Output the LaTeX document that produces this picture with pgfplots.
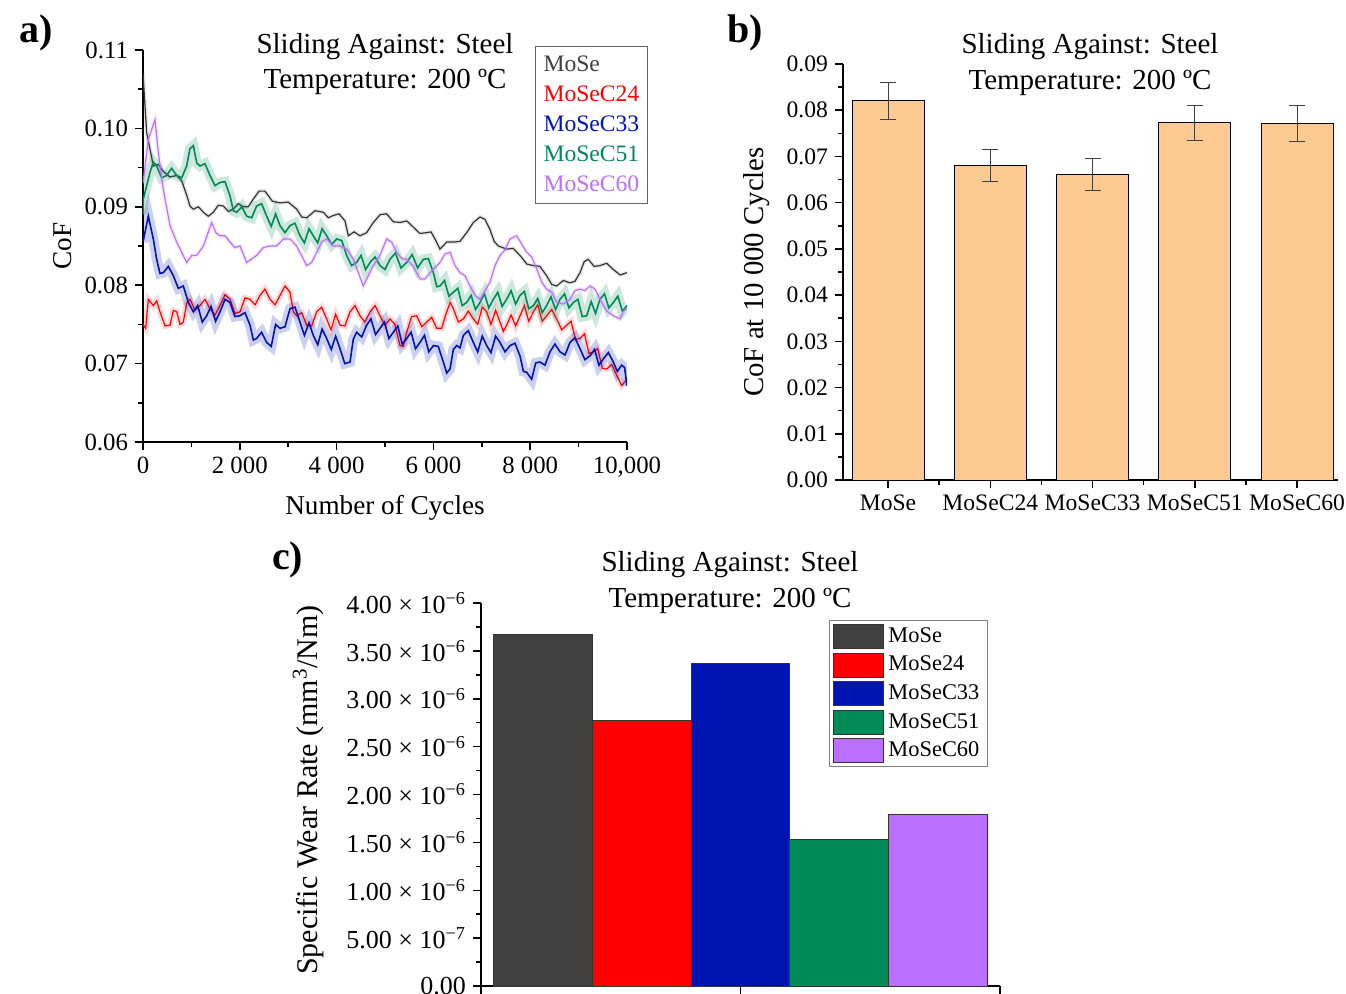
\documentclass[border=0pt]{standalone}
\usepackage{fontspec}
\setmainfont{Liberation Serif}
\usepackage{pgfplots}
\pgfplotsset{compat=1.18}
\usepackage{pgfplotstable}

\definecolor{cgray}{HTML}{404040}
\definecolor{cline}{HTML}{333333}
\definecolor{cred}{HTML}{FF0000}
\definecolor{cblue}{HTML}{0014B4}
\definecolor{cgreen}{HTML}{008A58}
\definecolor{cpurple}{HTML}{BB70FF}
\definecolor{cbar}{HTML}{FDCA92}

\pgfplotstableread{
x y
0 0.1070
30 0.1040
76 0.0995
214 0.0952
317 0.0954
420 0.0945
558 0.0938
696 0.0940
800 0.0933
902 0.0915
970 0.0901
1040 0.0897
1145 0.0900
1247 0.0893
1350 0.0888
1453 0.0893
1555 0.0902
1660 0.0901
1763 0.0894
1866 0.0897
1970 0.0904
2073 0.0900
2176 0.0900
2280 0.0910
2400 0.0920
2520 0.0920
2675 0.0907
2830 0.0905
3000 0.0906
3175 0.0897
3280 0.0887
3382 0.0886
3555 0.0895
3726 0.0893
3830 0.0886
3933 0.0889
4050 0.0891
4174 0.0882
4242 0.0863
4360 0.0868
4483 0.0863
4620 0.0867
4759 0.0880
4900 0.0890
5034 0.0891
5170 0.0881
5310 0.0880
5450 0.0882
5585 0.0874
5720 0.0866
5861 0.0867
5950 0.0868
6033 0.0859
6136 0.0846
6275 0.0855
6412 0.0855
6550 0.0856
6687 0.0867
6825 0.0880
6963 0.0887
7066 0.0884
7169 0.0871
7255 0.0856
7342 0.0850
7514 0.0846
7650 0.0847
7789 0.0838
7930 0.0827
8065 0.0825
8200 0.0824
8340 0.0812
8445 0.0801
8547 0.0799
8685 0.0806
8822 0.0803
8925 0.0805
9029 0.0816
9115 0.0830
9201 0.0833
9320 0.0824
9442 0.0825
9580 0.0828
9718 0.0820
9860 0.0813
10000 0.0816
}\tMoSe

\pgfplotstableread{
x y
0 0.0750
55 0.0745
110 0.0782
213 0.0774
282 0.0780
351 0.0766
455 0.0748
558 0.0749
627 0.0768
696 0.0766
765 0.0750
833 0.0753
902 0.0777
971 0.0782
1075 0.0768
1178 0.0774
1280 0.0782
1384 0.0770
1488 0.0762
1591 0.0774
1695 0.0788
1798 0.0782
1900 0.0764
2004 0.0766
2108 0.0784
2211 0.0782
2315 0.0775
2417 0.0787
2520 0.0795
2624 0.0782
2728 0.0775
2831 0.0787
2934 0.0799
3037 0.0791
3106 0.0766
3175 0.0761
3280 0.0765
3382 0.0749
3485 0.0748
3588 0.0766
3690 0.0772
3795 0.0757
3885 0.0743
3980 0.0763
4070 0.0749
4170 0.0748
4277 0.0766
4380 0.0774
4483 0.0761
4585 0.0753
4690 0.0766
4795 0.0774
4897 0.0761
5000 0.0749
5103 0.0757
5205 0.0750
5310 0.0723
5380 0.0722
5448 0.0740
5550 0.0760
5654 0.0761
5760 0.0747
5861 0.0753
5965 0.0759
6067 0.0745
6170 0.0745
6274 0.0766
6345 0.0778
6412 0.0770
6515 0.0753
6619 0.0757
6720 0.0767
6825 0.0757
6915 0.0750
7010 0.0772
7101 0.0766
7190 0.0750
7285 0.0768
7376 0.0753
7445 0.0741
7514 0.0749
7605 0.0762
7700 0.0748
7789 0.0761
7880 0.0774
7970 0.0754
8065 0.0766
8155 0.0775
8250 0.0754
8340 0.0761
8445 0.0769
8547 0.0757
8650 0.0743
8753 0.0749
8845 0.0754
8935 0.0731
9029 0.0732
9120 0.0738
9215 0.0713
9305 0.0715
9395 0.0719
9490 0.0694
9580 0.0693
9685 0.0699
9787 0.0685
9890 0.0672
10000 0.0680
}\tCtwo

\pgfplotstableread{
x y
0 0.0855
110 0.0888
213 0.0859
282 0.0833
351 0.0815
420 0.0816
523 0.0824
627 0.0812
730 0.0796
833 0.0799
937 0.0778
1040 0.0766
1130 0.0774
1225 0.0753
1315 0.0761
1405 0.0773
1500 0.0754
1591 0.0766
1695 0.0782
1798 0.0778
1900 0.0760
2004 0.0761
2108 0.0765
2211 0.0749
2280 0.0730
2348 0.0732
2450 0.0740
2555 0.0727
2650 0.0722
2740 0.0750
2831 0.0745
2934 0.0747
3037 0.0770
3140 0.0772
3244 0.0753
3335 0.0736
3430 0.0752
3519 0.0736
3610 0.0724
3700 0.0744
3795 0.0732
3890 0.0718
3980 0.0735
4070 0.0719
4170 0.0700
4277 0.0702
4345 0.0731
4414 0.0740
4518 0.0734
4621 0.0749
4710 0.0757
4805 0.0737
4897 0.0745
4990 0.0753
5080 0.0732
5172 0.0740
5265 0.0748
5355 0.0725
5448 0.0732
5540 0.0740
5630 0.0719
5723 0.0727
5815 0.0736
5905 0.0715
5999 0.0723
6100 0.0722
6205 0.0702
6275 0.0688
6343 0.0693
6412 0.0718
6481 0.0723
6550 0.0720
6619 0.0736
6720 0.0742
6825 0.0727
6915 0.0715
7010 0.0735
7101 0.0723
7190 0.0714
7285 0.0735
7376 0.0727
7480 0.0715
7583 0.0723
7685 0.0726
7789 0.0710
7860 0.0690
7927 0.0689
8030 0.0680
8115 0.0701
8202 0.0702
8305 0.0698
8409 0.0715
8510 0.0725
8616 0.0715
8720 0.0711
8822 0.0727
8925 0.0733
9029 0.0719
9130 0.0705
9236 0.0710
9330 0.0718
9420 0.0698
9511 0.0706
9615 0.0714
9718 0.0702
9800 0.0690
9890 0.0698
9950 0.0695
10000 0.0672
}\tCthree

\pgfplotstableread{
x y
0 0.0890
7 0.0910
145 0.0944
213 0.0957
282 0.0952
385 0.0937
489 0.0940
592 0.0949
696 0.0940
800 0.0937
902 0.0952
970 0.0974
1040 0.0978
1110 0.0956
1178 0.0952
1280 0.0955
1384 0.0940
1488 0.0927
1591 0.0931
1695 0.0932
1798 0.0914
1866 0.0895
1935 0.0893
2040 0.0900
2142 0.0888
2245 0.0886
2348 0.0901
2450 0.0904
2555 0.0888
2650 0.0875
2740 0.0891
2831 0.0876
2934 0.0867
3037 0.0876
3140 0.0879
3244 0.0863
3335 0.0854
3430 0.0872
3519 0.0863
3610 0.0854
3700 0.0872
3795 0.0863
3900 0.0852
4001 0.0859
4105 0.0857
4208 0.0838
4310 0.0825
4414 0.0829
4505 0.0838
4600 0.0820
4690 0.0829
4795 0.0836
4897 0.0825
5000 0.0820
5103 0.0833
5215 0.0841
5330 0.0822
5448 0.0829
5560 0.0839
5675 0.0822
5792 0.0833
5895 0.0834
5999 0.0816
6070 0.0798
6136 0.0799
6230 0.0806
6320 0.0786
6412 0.0791
6505 0.0796
6595 0.0774
6687 0.0778
6780 0.0787
6870 0.0769
6963 0.0778
7055 0.0789
7145 0.0771
7238 0.0782
7330 0.0791
7420 0.0773
7514 0.0782
7605 0.0793
7700 0.0776
7789 0.0787
7880 0.0792
7970 0.0770
8065 0.0774
8155 0.0783
8250 0.0765
8340 0.0774
8430 0.0785
8525 0.0769
8616 0.0782
8710 0.0789
8800 0.0771
8891 0.0778
8985 0.0782
9075 0.0760
9167 0.0761
9260 0.0779
9350 0.0764
9442 0.0782
9535 0.0789
9625 0.0771
9718 0.0778
9810 0.0786
9905 0.0767
10000 0.0774
}\tCfive

\pgfplotstableread{
x y
0 0.0930
110 0.0986
248 0.1011
317 0.0969
420 0.0922
558 0.0876
696 0.0855
902 0.0829
1005 0.0838
1109 0.0838
1247 0.0850
1419 0.0880
1505 0.0867
1591 0.0863
1695 0.0863
1798 0.0855
1900 0.0848
2004 0.0850
2142 0.0829
2348 0.0838
2486 0.0848
2624 0.0850
2760 0.0850
2899 0.0859
3037 0.0859
3175 0.0850
3382 0.0825
3485 0.0829
3588 0.0842
3690 0.0855
3795 0.0859
3930 0.0850
4070 0.0850
4210 0.0846
4346 0.0833
4552 0.0799
4759 0.0825
4895 0.0838
5034 0.0859
5137 0.0855
5241 0.0842
5345 0.0834
5448 0.0833
5585 0.0824
5723 0.0808
5826 0.0808
5930 0.0816
6136 0.0829
6240 0.0840
6343 0.0842
6446 0.0825
6550 0.0816
6653 0.0812
6756 0.0799
6860 0.0787
6963 0.0782
7169 0.0804
7272 0.0825
7376 0.0838
7480 0.0845
7583 0.0859
7720 0.0863
7927 0.0842
8030 0.0836
8134 0.0821
8237 0.0804
8340 0.0795
8444 0.0791
8547 0.0778
8685 0.0776
8822 0.0782
8925 0.0793
9029 0.0795
9132 0.0793
9236 0.0799
9339 0.0795
9442 0.0782
9580 0.0767
9718 0.0761
9855 0.0757
9928 0.0767
10000 0.0770
}\tCsix

\pgfplotsset{
  myax/.style={
    scale only axis,
    scaled ticks=false,
    axis lines*=left,
    axis line style={line width=0.75pt, black},
    tick style={line width=0.75pt, black},
    tick align=outside,
    major tick length=4pt,
    minor tick length=2.5pt,
  },
}

\begin{document}
\begin{tikzpicture}

% ---------------- panel a ----------------
\begin{axis}[myax,
  at={(71.5pt,275.5pt)}, anchor=south west,
  width=242pt, height=196pt,
  xmin=0, xmax=10000, ymin=0.06, ymax=0.11,
  xtick={0,2000,4000,6000,8000,10000},
  xticklabels={0,2~000,4~000,6~000,8~000,{10,000}},
  minor xtick={1000,3000,5000,7000,9000},
  ytick={0.06,0.07,0.08,0.09,0.10,0.11},
  yticklabels={0.06,0.07,0.08,0.09,0.10,0.11},
  minor ytick={0.065,0.075,0.085,0.095,0.105},
  ticklabel style={font=\fontsize{12.4}{14}\selectfont},
  xlabel={Number of Cycles}, ylabel={CoF},
  label style={font=\fontsize{13.6}{16}\selectfont},
  xlabel style={at={(axis description cs:0.5,-0.168)}, anchor=center},
  ylabel style={at={(axis description cs:-0.167,0.5)}, anchor=center},
  legend image code/.code={},
  legend cell align=left,
  legend style={at={(axis description cs:0.81,1.0102)}, anchor=north west,
    draw=black!60, line width=0.5pt,
    font=\fontsize{11.8}{13}\selectfont, row sep=1.7pt,
    inner xsep=2pt, inner ysep=2.5pt},
]
\addplot[cline, line width=2pt, opacity=0.12, forget plot] table {\tMoSe};
\addplot[cline, line width=0.6pt] table {\tMoSe};
\addlegendentry{\textcolor{cgray}{MoSe}}
\addplot[cred, line width=3pt, opacity=0.15, forget plot] table {\tCtwo};
\addplot[cred, line width=0.6pt] table {\tCtwo};
\addlegendentry{\textcolor{cred}{MoSeC24}}
\addplot[cblue, line width=5pt, opacity=0.2, forget plot] table {\tCthree};
\addplot[cblue, line width=0.8pt] table {\tCthree};
\addlegendentry{\textcolor{cblue}{MoSeC33}}
\addplot[cgreen, line width=5pt, opacity=0.2, forget plot] table {\tCfive};
\addplot[cgreen, line width=0.8pt] table {\tCfive};
\addlegendentry{\textcolor{cgreen}{MoSeC51}}
\addplot[cpurple, line width=2pt, opacity=0.15, forget plot] table {\tCsix};
\addplot[cpurple, line width=0.6pt] table {\tCsix};
\addlegendentry{\textcolor{cpurple}{MoSeC60}}
\end{axis}

% ---------------- panel b ----------------
\begin{axis}[myax,
  at={(421.5pt,256.5pt)}, anchor=south west,
  width=247.5pt, height=208pt,
  xmin=-0.44, xmax=4.40, ymin=0, ymax=0.09,
  ybar, bar width=36pt,
  xtick={0,1,2,3,4},
  xticklabels={MoSe,MoSeC24,MoSeC33,MoSeC51,MoSeC60},
  minor xtick={0.5,1.5,2.5,3.5},
  ytick={0,0.01,0.02,0.03,0.04,0.05,0.06,0.07,0.08,0.09},
  yticklabels={0.00,0.01,0.02,0.03,0.04,0.05,0.06,0.07,0.08,0.09},
  minor ytick={0.005,0.015,0.025,0.035,0.045,0.055,0.065,0.075,0.085},
  ticklabel style={font=\fontsize{11.8}{14}\selectfont},
  ylabel={CoF at 10~000 Cycles},
  label style={font=\fontsize{14.4}{16}\selectfont},
  ylabel style={at={(axis description cs:-0.174,0.5)}, anchor=center},
]
\addplot[fill=cbar, draw=black, line width=0.5pt,
  error bars/.cd, y dir=both, y explicit,
  error bar style={line width=0.5pt, black!75},
  error mark options={rotate=90, mark size=4pt, line width=0.5pt, black!75}]
  coordinates {
  (0,0.0820) +- (0,0.0039)
  (1,0.0681) +- (0,0.0035)
  (2,0.0661) +- (0,0.0034)
  (3,0.0773) +- (0,0.0038)
  (4,0.0772) +- (0,0.0039)
};
\end{axis}

% ---------------- panel c ----------------
\begin{axis}[myax,
  at={(240.5pt,3.5pt)}, anchor=south west,
  width=259.5pt, height=191.5pt,
  xmin=-1, xmax=1, ymin=0, ymax=4e-6,
  ybar=0pt, bar width=49.3pt,
  xtick={-1,0,1}, xticklabels={},
  ytick={0,0.5e-6,1e-6,1.5e-6,2e-6,2.5e-6,3e-6,3.5e-6,4e-6},
  yticklabels={0.00,
    5.00 × 10\textsuperscript{−7},
    1.00 × 10\textsuperscript{−6},
    1.50 × 10\textsuperscript{−6},
    2.00 × 10\textsuperscript{−6},
    2.50 × 10\textsuperscript{−6},
    3.00 × 10\textsuperscript{−6},
    3.50 × 10\textsuperscript{−6},
    4.00 × 10\textsuperscript{−6}},
  minor ytick={0.25e-6,0.75e-6,1.25e-6,1.75e-6,2.25e-6,2.75e-6,3.25e-6,3.75e-6},
  ticklabel style={font=\fontsize{13}{15}\selectfont},
  ylabel={Specific Wear Rate (mm\textsuperscript{3}/Nm)},
  label style={font=\fontsize{15}{17}\selectfont},
  ylabel style={at={(axis description cs:-0.333,0.512)}, anchor=center},
  legend cell align=left,
  legend image code/.code={\draw[#1, draw=black!80, line width=0.5pt] (0pt,-6pt) rectangle (25pt,6pt);},
  legend style={at={(axis description cs:0.6705,0.9556)}, anchor=north west,
    draw=black!50, line width=0.5pt,
    font=\fontsize{11.2}{13}\selectfont, row sep=1.4pt,
    inner xsep=2pt, inner ysep=1.5pt},
]
\addplot[fill=cgray, draw=black!80, line width=0.5pt] coordinates {(0,3.67e-6)};
\addlegendentry{MoSe}
\addplot[fill=cred, draw=black!80, line width=0.5pt] coordinates {(0,2.77e-6)};
\addlegendentry{MoSe24}
\addplot[fill=cblue, draw=black!80, line width=0.5pt] coordinates {(0,3.37e-6)};
\addlegendentry{MoSeC33}
\addplot[fill=cgreen, draw=black!80, line width=0.5pt] coordinates {(0,1.53e-6)};
\addlegendentry{MoSeC51}
\addplot[fill=cpurple, draw=black!80, line width=0.5pt] coordinates {(0,1.79e-6)};
\addlegendentry{MoSeC60}
\end{axis}

% ---------------- text ----------------
\node[anchor=base west, font=\bfseries\fontsize{20}{22}\selectfont] at (6pt,475pt) {a)};
\node[anchor=base west, font=\bfseries\fontsize{20}{22}\selectfont] at (360pt,475pt) {b)};
\node[anchor=base west, font=\bfseries\fontsize{20}{22}\selectfont] at (132.5pt,211.5pt) {c)};

\node[anchor=base, font=\fontsize{14.5}{16}\selectfont] at (192.5pt,469.5pt) {Sliding Against: Steel};
\node[anchor=base, font=\fontsize{14.5}{16}\selectfont] at (192.5pt,452pt) {Temperature: 200 ºC};
\node[anchor=base, font=\fontsize{14.5}{16}\selectfont] at (545pt,469.5pt) {Sliding Against: Steel};
\node[anchor=base, font=\fontsize{14.5}{16}\selectfont] at (545pt,451.5pt) {Temperature: 200 ºC};
\node[anchor=base, font=\fontsize{14.5}{16}\selectfont] at (365pt,211pt) {Sliding Against: Steel};
\node[anchor=base, font=\fontsize{14.5}{16}\selectfont] at (365pt,193pt) {Temperature: 200 ºC};

\pgfresetboundingbox
\path (0,0) rectangle (673pt,496.5pt);
\end{tikzpicture}
\end{document}
